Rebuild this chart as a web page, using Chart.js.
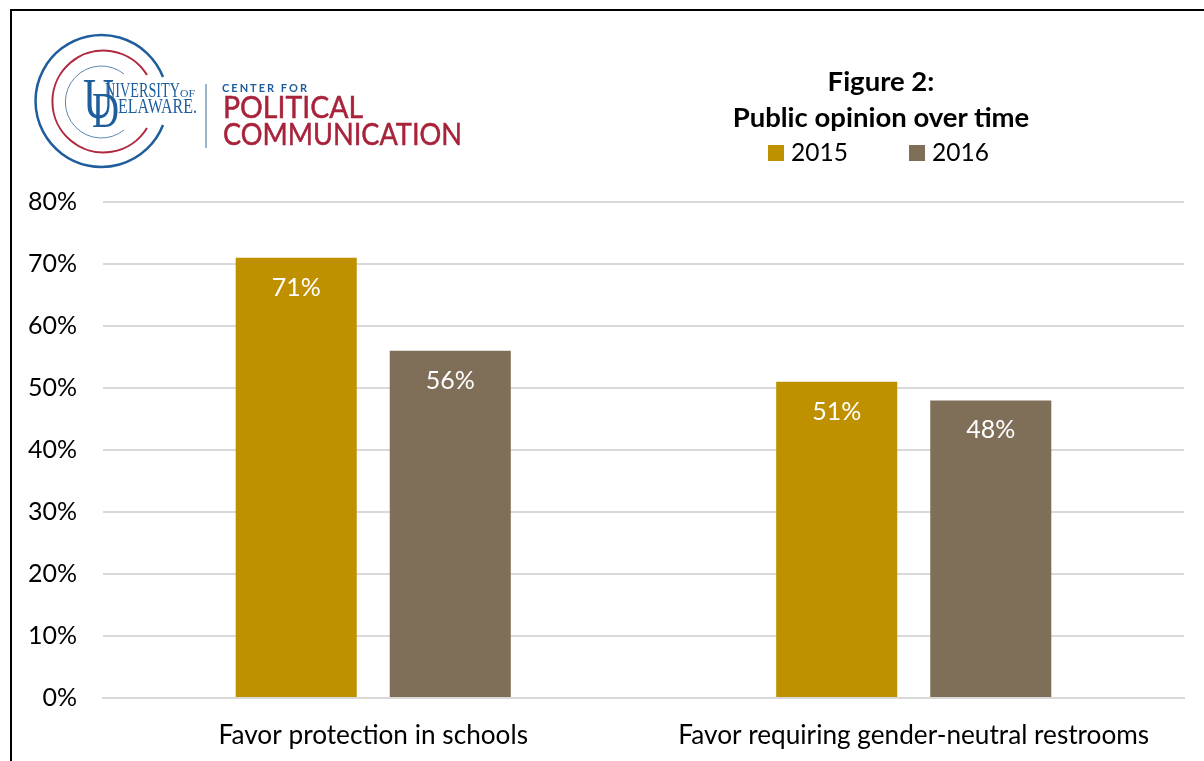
<!DOCTYPE html>
<html>
<head>
<meta charset="utf-8">
<title>Figure 2: Public opinion over time</title>
<script src="https://cdn.jsdelivr.net/npm/chart.js@4"></script>
<style>
    html, body { margin: 0; padding: 0; background: #fff; }
    body { width: 1204px; height: 761px; position: relative; overflow: hidden; font-family: Lato, sans-serif; color: #000; }
    #frame { position: absolute; left: 10px; top: 9px; width: 1194px; height: 752px; border-left: 2px solid #000; border-top: 2px solid #000; box-sizing: border-box; }
    #chart { position: absolute; left: 0; top: 0; }
    #logo { position: absolute; left: 0; top: 0; }
    #title { position: absolute; left: 681px; width: 400px; top: 63px; text-align: center; font-size: 27.5px; font-weight: 700; line-height: 36px; }
    #legend { position: absolute; left: 768px; top: 136px; height: 32px; font-size: 24.5px; line-height: 32px; }
    #legend span { position: absolute; top: 0; white-space: nowrap; }
    #legend i { position: absolute; top: 9px; width: 16px; height: 16px; }
</style>
</head>
<body>
<canvas id="chart" width="1204" height="761"></canvas>
<div id="frame"></div>

<svg id="logo" width="480" height="180" viewBox="0 0 480 180">
    <g fill="none">
        <path d="M163 77 A66 66 0 1 0 163 125" stroke="#1f5d9c" stroke-width="2.5"/>
        <path d="M147 75 A51 51 0 1 0 147 128" stroke="#b0293f" stroke-width="2"/>
        <path d="M124 74 A36 36 0 1 0 124 130" stroke="#5b88b3" stroke-width="1"/>
    </g>
    <g font-family="Liberation Serif" fill="#1f5d9c">
        <text x="83" y="118" font-size="57" textLength="31" lengthAdjust="spacingAndGlyphs">U</text>
        <text x="92" y="127" font-size="50" textLength="27" lengthAdjust="spacingAndGlyphs">D</text>
        <text x="105" y="97" font-size="22" textLength="75" lengthAdjust="spacingAndGlyphs">NIVERSITY</text>
        <text x="180" y="97" font-size="10" textLength="15" lengthAdjust="spacingAndGlyphs">OF</text>
        <text x="118" y="113" font-size="22" textLength="79" lengthAdjust="spacingAndGlyphs">ELAWARE.</text>
    </g>
    <line x1="206" y1="84" x2="206" y2="148" stroke="#9db4c8" stroke-width="2"/>
    <g font-family="Lato">
        <text x="222" y="92" font-size="11" font-weight="700" fill="#1f5d9c" textLength="85">CENTER FOR</text>
        <text x="223" y="118" font-size="31" font-weight="400" fill="#a8233a" stroke="#a8233a" stroke-width="0.5" textLength="140" lengthAdjust="spacingAndGlyphs">POLITICAL</text>
        <text x="223" y="145" font-size="31" font-weight="400" fill="#a8233a" stroke="#a8233a" stroke-width="0.5" textLength="239" lengthAdjust="spacingAndGlyphs">COMMUNICATION</text>
    </g>
</svg>

<div id="title"><div>Figure 2:</div><div>Public opinion over time</div></div>
<div id="legend"></div>

<script>
// Values
const categories = ["Favor protection in schools", "Favor requiring gender-neutral restrooms"];
const years = ["2015", "2016"];
const values2015 = [71, 51];
const values2016 = [56, 48];
const yearColors = ["#bf9000", "#7f6f59"];

// Legend
const legendBox = document.getElementById("legend");
const legendOffsets = [0, 141];
years.forEach((year, i) => {
    const swatch = document.createElement("i");
    swatch.style.left = legendOffsets[i] + "px";
    swatch.style.background = yearColors[i];
    const label = document.createElement("span");
    label.style.left = (legendOffsets[i] + 23) + "px";
    label.textContent = year;
    legendBox.appendChild(swatch);
    legendBox.appendChild(label);
});

// White value labels inside the bars
const barLabels = {
    id: "barLabels",
    afterDatasetsDraw(chart) {
        const ctx = chart.ctx;
        ctx.save();
        ctx.fillStyle = "#fff";
        ctx.font = "25px Lato";
        ctx.textAlign = "center";
        ctx.textBaseline = "middle";
        chart.data.datasets.forEach((ds, d) => {
            chart.getDatasetMeta(d).data.forEach((bar, i) => {
                ctx.fillText(ds.data[i] + "%", bar.x, bar.y + 30);
            });
        });
        ctx.restore();
    }
};

new Chart(document.getElementById("chart"), {
    type: "bar",
    data: {
        labels: categories,
        datasets: [
            { label: years[0], data: values2015, backgroundColor: yearColors[0] },
            { label: years[1], data: values2016, backgroundColor: yearColors[1] }
        ]
    },
    plugins: [barLabels],
    options: {
        responsive: false,
        animation: false,
        layout: { padding: { top: 202, right: 20, bottom: 0, left: 0 } },
        categoryPercentage: 0.57,
        barPercentage: 0.786,
        plugins: {
            legend: { display: false },
            title: { display: false },
            tooltip: { enabled: false }
        },
        scales: {
            x: {
                afterFit: axis => { axis.height = 63; },
                grid: { display: false },
                border: { color: "#d9d9d9", width: 2 },
                ticks: { color: "#000", font: { family: "Lato", size: 26.2 }, padding: 14, maxRotation: 0 }
            },
            y: {
                min: 0,
                max: 80,
                afterFit: axis => { axis.width = 103; },
                grid: { color: "#d9d9d9", lineWidth: 2, drawTicks: false },
                border: { display: false },
                ticks: {
                    stepSize: 10,
                    color: "#000",
                    padding: 26,
                    font: { family: "Lato", size: 25 },
                    callback: v => v + "%"
                }
            }
        }
    }
});
</script>
</body>
</html>
